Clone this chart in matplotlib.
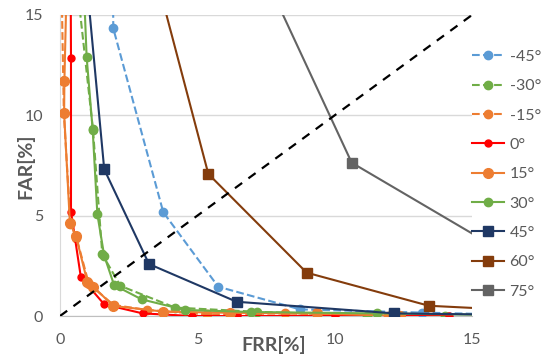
import matplotlib
matplotlib.use("Agg")
import matplotlib.pyplot as plt

plt.rcParams['font.family'] = ['Lato', 'DejaVu Sans']

labels = ['-45°', '-30°', '-15°', '0°', '15°', '30°', '45°', '60°', '75°']

x_m45 = [1.85, 1.94, 3.76, 5.76, 8.74, 13.17, 17.0]
y_m45 = [30.0, 14.33, 5.17, 1.46, 0.33, 0.17, 0.05]

x_m30 = [0.5, 1.2, 1.54, 2.2, 4.19, 7.16, 11.16, 14.0]
y_m30 = [18.0, 9.3, 3.07, 1.5, 0.42, 0.21, 0.02, 0.0]

x_m15 = [0.05, 0.14, 0.38, 0.6, 1.05, 1.95, 3.18, 5.34, 8.19, 11.95]
y_m15 = [17.0, 10.1, 4.6, 3.9, 1.6, 0.55, 0.3, 0.08, 0.13, 0.0]

x_0 = [0.38, 0.40, 0.40, 0.76, 1.61, 3.01, 4.79, 6.43, 10.0, 14.17]
y_0 = [20.0, 12.84, 5.2, 1.93, 0.58, 0.13, 0.0, 0.0, 0.0, 0.0]

x_15 = [0.25, 0.16, 0.15, 0.36, 0.58, 1.0, 1.21, 1.94, 3.76, 6.19, 9.34, 12.38]
y_15 = [17.0, 11.72, 10.1, 4.65, 3.99, 1.68, 1.46, 0.5, 0.22, 0.16, 0.13, 0.0]

x_30 = [0.85, 0.97, 1.19, 1.36, 1.61, 1.97, 2.97, 4.55, 6.95, 11.53, 16.0]
y_30 = [17.0, 12.9, 9.27, 5.07, 3.0, 1.54, 0.83, 0.30, 0.2, 0.13, 0.05]

x_45 = [0.95, 1.61, 3.24, 6.43, 12.17, 17.0]
y_45 = [17.0, 7.31, 2.59, 0.71, 0.13, 0.05]

x_60 = [3.3, 5.40, 8.98, 13.43, 18.0]
y_60 = [18.0, 7.08, 2.16, 0.51, 0.2]

x_75 = [7.0, 10.62, 18.0]
y_75 = [18.3, 7.64, 1.7]

diag = [0, 15]

fig = plt.figure(figsize=(5.44, 3.63), dpi=100)
ax = fig.add_axes([60/544, 1 - 316/363, 412/544, 301/363])

series = [
    (x_m45, y_m45, '#5b9bd5', '--', 'o', 6),
    (x_m30, y_m30, '#70ad47', '--', 'o', 6),
    (x_m15, y_m15, '#ed7d31', '--', 'o', 6),
    (x_0, y_0, '#ff0000', '-', 'o', 5),
    (x_15, y_15, '#ed7d31', '-', 'o', 7),
    (x_30, y_30, '#70ad47', '-', 'o', 6),
    (x_45, y_45, '#1f3864', '-', 's', 7),
    (x_60, y_60, '#843c0c', '-', 's', 7),
    (x_75, y_75, '#636363', '-', 's', 7),
]
for (xs, ys, c, ls, m, ms), lab in zip(series, labels):
    ax.plot(xs, ys, color=c, ls=ls, marker=m, ms=ms, lw=1.5, label=lab,
            clip_on=True, zorder=3)

ax.plot(diag, diag, color='black', ls=(0, (4, 3.5)), lw=1.6, zorder=4)

ax.set_xlim(0, 15)
ax.set_ylim(0, 15)
ax.set_xticks([0, 5, 10, 15])
ax.set_yticks([0, 5, 10, 15])
ax.grid(axis='y', color='#d9d9d9', lw=1)
ax.set_axisbelow(True)
for s in ['top', 'right']:
    ax.spines[s].set_visible(False)
ax.spines['left'].set_color('#d9d9d9')
ax.spines['bottom'].set_color('#bfbfbf')
ax.tick_params(length=0, labelsize=11.5, labelcolor='#595959')
ax.tick_params(axis='x', pad=12)
ax.tick_params(axis='y', pad=12)

ax.set_xlabel('FRR[%]', fontsize=14, fontweight='bold', color='#595959')
ax.set_ylabel('FAR[%]', fontsize=14, fontweight='bold', color='#595959')
ax.xaxis.set_label_coords(0.519, -0.096)
ax.yaxis.set_label_coords(-0.085, 0.498)
ax.xaxis.label.set_va('center')
ax.yaxis.label.set_va('center')

leg = ax.legend(loc='upper left', bbox_to_anchor=(1.0, 0.885), frameon=False,
                fontsize=11.5, labelspacing=0.95, handlelength=2.0,
                handletextpad=0.35, borderaxespad=0, borderpad=0)
for t in leg.get_texts():
    t.set_color('#595959')

fig.savefig('out.png', dpi=100)
